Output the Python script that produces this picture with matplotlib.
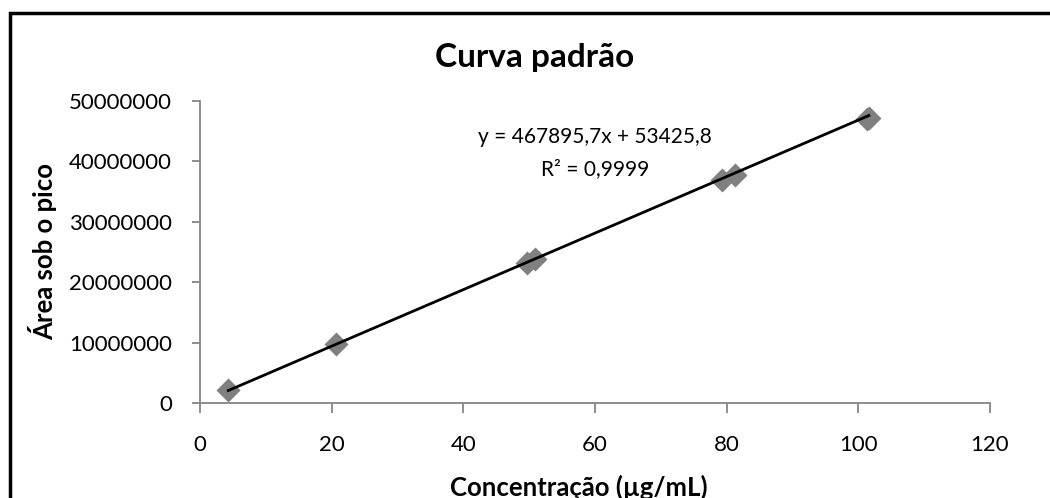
import matplotlib
matplotlib.use("Agg")
import matplotlib.pyplot as plt
from matplotlib.patches import Rectangle
import numpy as np

concentracao = [4.3, 20.6, 49.6, 50.9, 79.3, 81.2, 101.3, 101.6]
area = [2.2e6, 9.7e6, 23.2e6, 23.8e6, 37.0e6, 37.8e6, 47.1e6, 47.2e6]
slope = 467895.7
intercept = 53425.8
eq_text = "y = 467895,7x + 53425,8"
r2_text = "R² = 0,9999"
title = "Curva padrão"
xlabel = "Concentração (µg/mL)"
ylabel = "Área sob o pico"
xticks = [0, 20, 40, 60, 80, 100, 120]
yticks = [0, 10000000, 20000000, 30000000, 40000000, 50000000]

plt.rcParams['font.family'] = ['Lato', 'DejaVu Sans']
fig = plt.figure(figsize=(10.5, 4.98), dpi=100)
ax = fig.add_axes([200/1050, 1-403/498, 790/1050, 302/498])

gray = '#868686'
ax.scatter(concentracao, area, marker='D', s=150, color='#808080', zorder=2, linewidths=0)
xs = np.array([min(concentracao), max(concentracao)])
ax.plot(xs, slope*xs + intercept, color='black', lw=2, zorder=3)

ax.set_xlim(0, 120)
ax.set_ylim(0, 50000000)
ax.set_xticks(xticks)
ax.set_yticks(yticks)
ax.set_xticklabels([str(t) for t in xticks])
ax.set_yticklabels([str(t) for t in yticks])
for s in ['top', 'right']:
    ax.spines[s].set_visible(False)
for s in ['left', 'bottom']:
    ax.spines[s].set_color(gray)
    ax.spines[s].set_linewidth(1.3)
ax.tick_params(axis='x', direction='out', length=7, width=1.3, color=gray, labelsize=16, pad=16)
ax.tick_params(axis='y', direction='out', length=6, width=1.3, color=gray, labelsize=16, pad=14)

fig.text(579/1050, 1-487/498, xlabel, ha='center', va='center', fontsize=18.5, fontweight='bold')
fig.text(43/1050, 1-252/498, ylabel, ha='center', va='center', rotation=90, fontsize=18.5, fontweight='bold')
fig.text(535/1050, 1-58/498, title, ha='center', va='center', fontsize=24, fontweight='bold')

fig.text(595/1050, 1-137/498, eq_text, fontsize=15, ha='center', va='center')
fig.text(595/1050, 1-169/498, r2_text, fontsize=15, ha='center', va='center')

fig.patches.append(Rectangle((10/1050, -0.1), 1.2, 1-13/498 + 0.1, transform=fig.transFigure,
                             fill=False, edgecolor='black', lw=2.5, zorder=10))

fig.savefig('out.png', dpi=100)
